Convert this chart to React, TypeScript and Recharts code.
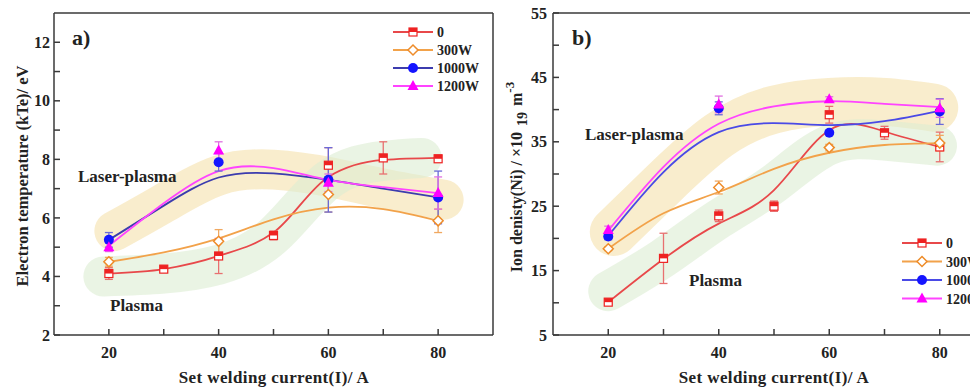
import React from 'react';
import { LineChart, Line, XAxis, YAxis, ErrorBar, ReferenceLine } from 'recharts';

const SERIF = '"Liberation Serif", "Times New Roman", serif';

// x positions (set welding current, A)
const currentX = [20, 30, 40, 50, 60, 70, 80];
const powerX = [20, 40, 60, 80];
const xTicks = [20, 30, 40, 50, 60, 70, 80];
const xLabels = [20, 40, 60, 80];

// a) electron temperature (eV)
const teArc = [4.1, 4.25, 4.7, 5.4, 7.8, 8.05, 8.02];
const teArcErr = [0.2, 0.1, 0.6, 0.15, 0.6, 0.55, 0.12];
const te300 = [4.5, 5.2, 6.8, 5.9];
const te300Err = [0.15, 0.4, 0.6, 0.4];
const te1000 = [5.25, 7.9, 7.3, 6.7];
const te1000Err = [0.25, 0.3, 1.1, 0.9];
const te1200 = [5.0, 8.3, 7.2, 6.85];
const te1200Err = [0.15, 0.3, 0.3, 0.55];
// fitted curves, read at currentX
const teArcFit = [4.1, 4.25, 4.7, 5.5, 7.4, 7.98, 8.05];
const te300Fit = [4.5, 4.82, 5.3, 5.95, 6.35, 6.3, 5.9];
const te1000Fit = [5.25, 6.42, 7.38, 7.52, 7.3, 7.0, 6.7];
const te1200Fit = [5.05, 6.5, 7.6, 7.7, 7.3, 7.05, 6.85];
// highlight bands
const teLaserBandX = [21, 30, 40, 50, 60, 70, 81];
const teLaserBand = [5.55, 6.5, 7.45, 7.65, 7.4, 7.0, 6.62];
const tePlasmaBandX = [19, 30, 40, 50, 60, 70, 77];
const tePlasmaBand = [4.0, 4.1, 4.4, 5.4, 7.3, 7.95, 8.05];
const teTicks = [2, 3, 4, 5, 6, 7, 8, 9, 10, 11, 12];
const teLabels = [2, 4, 6, 8, 10, 12];

// b) ion density (x10^19 m^-3)
const niArc = [10.1, 16.9, 23.5, 25.0, 39.2, 36.4, 34.2];
const niArcErr = [0.4, 3.9, 0.9, 0.8, 1.3, 1.0, 2.3];
const ni300 = [18.4, 27.9, 34.1, 34.8];
const ni300Err = [0.3, 1.0, 0.5, 1.2];
const ni1000 = [20.3, 40.2, 36.4, 39.7];
const ni1000Err = [0.5, 1.0, 0.3, 2.0];
const ni1200 = [21.3, 40.8, 41.6, 40.2];
const ni1200Err = [0.6, 1.3, 0.4, 1.4];
const niArcFit = [10.1, 16.8, 22.3, 27.5, 36.8, 36.6, 34.2];
const ni300Fit = [18.4, 23.9, 27.2, 30.8, 33.3, 34.5, 34.8];
const ni1000Fit = [20.4, 30.3, 36.5, 37.9, 37.6, 38.2, 39.8];
const ni1200Fit = [21.2, 31.1, 37.8, 40.5, 41.3, 40.9, 40.4];
const niLaserBandX = [21, 30, 40, 50, 60, 70, 79];
const niLaserBand = [21, 28.5, 36, 40, 41.2, 41.2, 40.3];
const niPlasmaBandX = [20, 30, 40, 50, 60, 70, 79.5];
const niPlasmaBand = [11.8, 17, 23, 28.5, 34.5, 35.2, 34.4];
const niTicks = [5, 10, 15, 20, 25, 30, 35, 40, 45, 50, 55];
const niLabels = [5, 15, 25, 35, 45, 55];

const legendNames = ['0', '300W', '1000W', '1200W'];

type Kind = 'square' | 'diamond' | 'circle' | 'triangle';

interface Series {
  key: string;
  xs: number[];
  ys: number[];
  err: number[];
  fit: number[];
  kind: Kind;
  line: string;
  mark: string;
  bar: string;
  curve: 'natural' | 'monotone';
}

interface Band {
  key: string;
  xs: number[];
  ys: number[];
  color: string;
  opacity: number;
  width: number;
}

const Mark = ({ cx, cy, kind, color }: { cx: number; cy: number; kind: Kind; color: string }) => {
  if (kind === 'square') {
    return (
      <g>
        <rect x={cx - 4} y={cy - 4} width={8} height={8} fill="#fff" stroke={color} strokeWidth={1.2} />
        <rect x={cx - 4} y={cy - 4} width={8} height={4} fill={color} />
      </g>
    );
  }
  if (kind === 'diamond') {
    return (
      <path
        d={`M${cx},${cy - 5} L${cx + 5},${cy} L${cx},${cy + 5} L${cx - 5},${cy} Z`}
        fill="#fff"
        stroke={color}
        strokeWidth={1.5}
      />
    );
  }
  if (kind === 'circle') return <circle cx={cx} cy={cy} r={5} fill={color} />;
  return <path d={`M${cx},${cy - 6} L${cx + 5.5},${cy + 4} L${cx - 5.5},${cy + 4} Z`} fill={color} />;
};

function mergeRows(parts: [string, number[], number[]][]) {
  const map = new Map<number, Record<string, number>>();
  parts.forEach(([key, xs, ys]) =>
    xs.forEach((x, i) => {
      const row = map.get(x) ?? { x };
      row[key] = ys[i];
      map.set(x, row);
    })
  );
  return [...map.values()].sort((a, b) => a.x - b.x);
}

const axisStroke = { stroke: '#3a3a3a', strokeWidth: 1.5 };
const tickFont = { fill: '#222', fontSize: 16, fontWeight: 700, fontFamily: SERIF };

interface PanelProps {
  width: number;
  yWidth: number;
  right: number;
  series: Series[];
  bands: Band[];
  yDomain: [number, number];
  yTicks: number[];
  yLabels: number[];
  yTickMargin: number;
}

const Panel: React.FC<PanelProps> = ({ width, yWidth, right, series, bands, yDomain, yTicks, yLabels, yTickMargin }) => {
  const data = mergeRows([
    ...bands.map((b) => [b.key, b.xs, b.ys] as [string, number[], number[]]),
    ...series.flatMap((s) => [
      [s.key, s.xs, s.ys] as [string, number[], number[]],
      [s.key + 'Err', s.xs, s.err] as [string, number[], number[]],
      [s.key + 'Fit', currentX, s.fit] as [string, number[], number[]],
    ]),
  ]);

  return (
    <LineChart width={width} height={387} data={data} margin={{ top: 13, right, left: 0, bottom: 0 }}>
      <XAxis
        dataKey="x"
        type="number"
        domain={[10, 90]}
        allowDataOverflow
        ticks={xTicks}
        interval={0}
        tickFormatter={(v: number) => (xLabels.includes(v) ? String(v) : '')}
        height={52}
        tickSize={-6}
        tickMargin={18}
        axisLine={axisStroke}
        tickLine={axisStroke}
        tick={tickFont}
      />
      <YAxis
        type="number"
        domain={yDomain}
        allowDataOverflow
        ticks={yTicks}
        interval={0}
        tickFormatter={(v: number) => (yLabels.includes(v) ? String(v) : '')}
        width={yWidth}
        tickSize={-6}
        tickMargin={yTickMargin}
        axisLine={axisStroke}
        tickLine={axisStroke}
        tick={tickFont}
      />
      <ReferenceLine y={yDomain[1]} stroke="#3a3a3a" strokeWidth={1.5} />
      <ReferenceLine x={90} stroke="#3a3a3a" strokeWidth={1.5} />
      {bands.map((b) => (
        <Line
          key={b.key}
          dataKey={b.key}
          type="natural"
          stroke={b.color}
          strokeOpacity={b.opacity}
          strokeWidth={b.width}
          strokeLinecap="round"
          strokeLinejoin="round"
          dot={false}
          activeDot={false}
          connectNulls
          isAnimationActive={false}
        />
      ))}
      {series.map((s) => (
        <Line
          key={s.key + 'Fit'}
          dataKey={s.key + 'Fit'}
          type={s.curve}
          stroke={s.line}
          strokeWidth={1.8}
          dot={false}
          activeDot={false}
          connectNulls
          isAnimationActive={false}
        />
      ))}
      {series.map((s) => (
        <Line
          key={s.key}
          dataKey={s.key}
          stroke="none"
          connectNulls
          activeDot={false}
          isAnimationActive={false}
          dot={(p: any) =>
            p.cx == null || p.cy == null || p.value == null ? (
              <g key={`${s.key}-${p.index}`} />
            ) : (
              <Mark key={`${s.key}-${p.index}`} cx={p.cx} cy={p.cy} kind={s.kind} color={s.mark} />
            )
          }
        >
          <ErrorBar dataKey={s.key + 'Err'} direction="y" width={4} stroke={s.bar} strokeWidth={1.3} />
        </Line>
      ))}
    </LineChart>
  );
};

const tempSeries: Series[] = [
  { key: 'arc', xs: currentX, ys: teArc, err: teArcErr, fit: teArcFit, kind: 'square', line: '#e8484a', mark: '#ee2222', bar: '#e87070', curve: 'monotone' },
  { key: 'p300', xs: powerX, ys: te300, err: te300Err, fit: te300Fit, kind: 'diamond', line: '#f2a24a', mark: '#ee8c2a', bar: '#f0a860', curve: 'natural' },
  { key: 'p1000', xs: powerX, ys: te1000, err: te1000Err, fit: te1000Fit, kind: 'circle', line: '#3c3cae', mark: '#1515ff', bar: '#6a6ad8', curve: 'natural' },
  { key: 'p1200', xs: powerX, ys: te1200, err: te1200Err, fit: te1200Fit, kind: 'triangle', line: '#ff44ff', mark: '#ff00ff', bar: '#e070e0', curve: 'natural' },
];

const ionSeries: Series[] = [
  { key: 'arc', xs: currentX, ys: niArc, err: niArcErr, fit: niArcFit, kind: 'square', line: '#e8484a', mark: '#ee2222', bar: '#e87070', curve: 'natural' },
  { key: 'p300', xs: powerX, ys: ni300, err: ni300Err, fit: ni300Fit, kind: 'diamond', line: '#f2a24a', mark: '#ee8c2a', bar: '#f0a860', curve: 'natural' },
  { key: 'p1000', xs: powerX, ys: ni1000, err: ni1000Err, fit: ni1000Fit, kind: 'circle', line: '#4a4ae6', mark: '#1515ff', bar: '#6a6ad8', curve: 'natural' },
  { key: 'p1200', xs: powerX, ys: ni1200, err: ni1200Err, fit: ni1200Fit, kind: 'triangle', line: '#ff44ff', mark: '#ff00ff', bar: '#e070e0', curve: 'natural' },
];

const tempBands: Band[] = [
  { key: 'laser', xs: teLaserBandX, ys: teLaserBand, color: '#f6e6b8', opacity: 0.7, width: 40 },
  { key: 'plasma', xs: tePlasmaBandX, ys: tePlasmaBand, color: '#dcedd2', opacity: 0.6, width: 40 },
];

const ionBands: Band[] = [
  { key: 'laser', xs: niLaserBandX, ys: niLaserBand, color: '#f6e6b8', opacity: 0.7, width: 48 },
  { key: 'plasma', xs: niPlasmaBandX, ys: niPlasmaBand, color: '#dcedd2', opacity: 0.6, width: 40 },
];

const LegendBox = ({ x, y, gap, series }: { x: number; y: number; gap: number; series: Series[] }) => (
  <g>
    {series.map((s, i) => (
      <g key={s.key} transform={`translate(${x}, ${y + i * gap})`}>
        <line x1={0} x2={40} y1={0} y2={0} stroke={s.line} strokeWidth={1.8} />
        <Mark cx={20} cy={0} kind={s.kind} color={s.mark} />
        <text x={44} y={5} fontSize={14} fontWeight={700} fontFamily={SERIF} fill="#222">
          {legendNames[i]}
        </text>
      </g>
    ))}
  </g>
);

const boldText = { fontFamily: SERIF, fontWeight: 700, fill: '#222' } as const;

export default function App() {
  return (
    <div style={{ position: 'absolute', left: 0, top: 0, width: 970, height: 387, overflow: 'hidden', background: '#fff' }}>
      <div style={{ position: 'absolute', left: 0, top: 0 }}>
        <Panel width={500} yWidth={54} right={7} series={tempSeries} bands={tempBands} yDomain={[2, 13]} yTicks={teTicks} yLabels={teLabels} yTickMargin={10} />
      </div>
      <div style={{ position: 'absolute', left: 490, top: 0 }}>
        <Panel width={505} yWidth={63} right={0} series={ionSeries} bands={ionBands} yDomain={[5, 55]} yTicks={niTicks} yLabels={niLabels} yTickMargin={12} />
      </div>
      <svg width={970} height={387} style={{ position: 'absolute', left: 0, top: 0, pointerEvents: 'none' }}>
        <text x={72} y={45} fontSize={22} {...boldText}>a)</text>
        <text x={572} y={45} fontSize={22} {...boldText}>b)</text>
        <text x={78} y={182} fontSize={17} {...boldText}>Laser-plasma</text>
        <text x={110} y={311} fontSize={17} {...boldText}>Plasma</text>
        <text x={585} y={140} fontSize={17} {...boldText}>Laser-plasma</text>
        <text x={689} y={286} fontSize={17} {...boldText}>Plasma</text>
        <text x={274} y={383} fontSize={17} letterSpacing={0.4} textAnchor="middle" {...boldText}>Set welding current(I)/ A</text>
        <text x={774} y={383} fontSize={17} letterSpacing={0.4} textAnchor="middle" {...boldText}>Set welding current(I)/ A</text>
        <text transform="translate(28, 176) rotate(-90)" fontSize={16.5} textAnchor="middle" {...boldText}>
          Electron temperature (kTe)/ eV
        </text>
        <text transform="translate(522, 177) rotate(-90)" fontSize={16} textAnchor="middle" {...boldText}>
          Ion denisty(Ni) / ×10
          <tspan dx={6} dy={5} fontSize={14}>19</tspan>
          <tspan dx={6} dy={-5}>m</tspan>
          <tspan dy={-8} fontSize={13}>-3</tspan>
        </text>
        <LegendBox x={393} y={32} gap={18} series={tempSeries} />
        <LegendBox x={902} y={243} gap={18.5} series={ionSeries} />
      </svg>
    </div>
  );
}
